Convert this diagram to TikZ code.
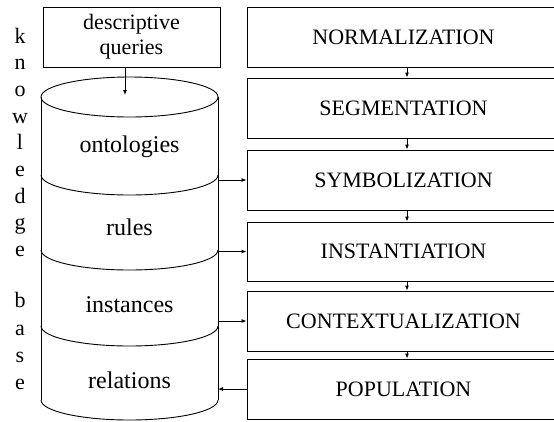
\documentclass[tikz,border=0pt]{standalone}
\usepackage{fontspec}
\setmainfont{Liberation Serif}
\usetikzlibrary{arrows.meta}
\begin{document}
\begin{tikzpicture}[x=1pt,y=-1pt,line width=0.9pt,
  stage/.style={draw,rectangle,inner sep=0pt,minimum width=313pt,minimum height=60pt,font=\fontsize{22}{25}\selectfont},
  qbox/.style={draw,rectangle,inner sep=0pt,minimum width=177pt,minimum height=60pt,align=center,font=\fontsize{22}{25}\selectfont},
  arr/.style={-{Latex[length=5pt,width=4pt]}},
  layer/.style={anchor=base,font=\fontsize{24}{28}\selectfont},
  kbletter/.style={anchor=base,font=\fontsize{22}{25}\selectfont}]
\useasboundingbox (0,0) rectangle (554,421);
\clip (0,0) rectangle (554,421);
% vertical label
\foreach \l/\y [count=\i] in {k/43,n/69.5,o/96,w/123,l/149.5,e/176,d/203,g/229.5,e/256,b/307,a/335,s/362,e/389}
  \node[kbletter] (kb\i) at (20,\y) {\l};
% query box
\node[qbox] (dq) at (131.5,37) {descriptive\\queries};
% cylinder
\draw (129.5,97) ellipse [x radius=88.5, y radius=20];
\draw (41,97) -- (41,400);
\draw (218,97) -- (218,400);
\draw (41,175) arc[start angle=180,end angle=0,x radius=88.5,y radius=20];
\draw (41,250) arc[start angle=180,end angle=0,x radius=88.5,y radius=20];
\draw (41,326) arc[start angle=180,end angle=0,x radius=88.5,y radius=20];
\draw (41,400) arc[start angle=180,end angle=0,x radius=88.5,y radius=20];
\node[layer] (ont) at (129.5,152) {ontologies};
\node[layer] (rul) at (129.5,235) {rules};
\node[layer] (ins) at (129.5,312) {instances};
\node[layer] (rel) at (129.5,388) {relations};
\coordinate (qin) at (125,95);
\coordinate (w1) at (218,180);
\coordinate (w2) at (218,251.5);
\coordinate (w3) at (218,321);
\coordinate (w4) at (218,389);
% stages
\node[stage] (norm) at (403.5,37) {NORMALIZATION};
\node[stage] (seg) at (403.5,108) {SEGMENTATION};
\node[stage] (sym) at (403.5,180) {SYMBOLIZATION};
\node[stage,minimum height=59pt] (inst) at (403.5,251.5) {INSTANTIATION};
\node[stage] (ctx) at (403.5,321) {CONTEXTUALIZATION};
\node[stage] (pop) at (403.5,389) {POPULATION};
% connectors
\draw[arr] ([xshift=-6.5pt]dq.south) -- (qin);
\draw[arr] ([xshift=3.5pt]norm.south) -- ([xshift=3.5pt]seg.north);
\draw[arr] ([xshift=3.5pt]seg.south) -- ([xshift=3.5pt]sym.north);
\draw[arr] ([xshift=3.5pt]sym.south) -- ([xshift=3.5pt]inst.north);
\draw[arr] ([xshift=3.5pt]inst.south) -- ([xshift=3.5pt]ctx.north);
\draw[arr] ([xshift=3.5pt]ctx.south) -- ([xshift=3.5pt]pop.north);
\draw[arr] (w1) -- (sym.west);
\draw[arr] (w2) -- (inst.west);
\draw[arr] (w3) -- (ctx.west);
\draw[arr] (pop.west) -- (w4);
\end{tikzpicture}
\end{document}
